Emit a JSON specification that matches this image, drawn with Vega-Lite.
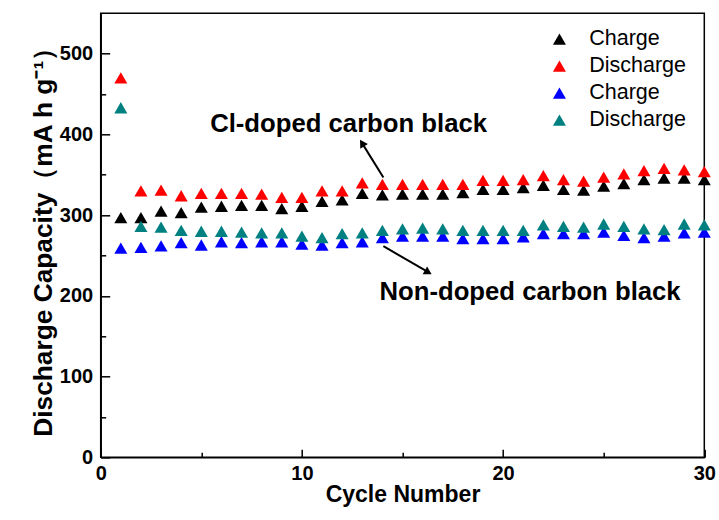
{
  "$schema": "https://vega.github.io/schema/vega-lite/v6.json",
  "width": 603.6,
  "height": 444,
  "autosize": {"type": "none"},
  "padding": {"left": 100.7, "top": 13.3, "right": 14.7, "bottom": 62.7},
  "background": "white",
  "config": {
    "view": {"stroke": "black", "strokeWidth": 1.5},
    "font": "Liberation Sans"
  },
  "datasets": {
    "cap": [
      {"cycle": 1, "series": "Cl Charge", "cap": 297}, {"cycle": 2, "series": "Cl Charge", "cap": 297}, {"cycle": 3, "series": "Cl Charge", "cap": 305}, {"cycle": 4, "series": "Cl Charge", "cap": 303}, {"cycle": 5, "series": "Cl Charge", "cap": 310}, {"cycle": 6, "series": "Cl Charge", "cap": 311}, {"cycle": 7, "series": "Cl Charge", "cap": 312}, {"cycle": 8, "series": "Cl Charge", "cap": 312}, {"cycle": 9, "series": "Cl Charge", "cap": 308}, {"cycle": 10, "series": "Cl Charge", "cap": 311},
      {"cycle": 11, "series": "Cl Charge", "cap": 317}, {"cycle": 12, "series": "Cl Charge", "cap": 319}, {"cycle": 13, "series": "Cl Charge", "cap": 327}, {"cycle": 14, "series": "Cl Charge", "cap": 325}, {"cycle": 15, "series": "Cl Charge", "cap": 326}, {"cycle": 16, "series": "Cl Charge", "cap": 326}, {"cycle": 17, "series": "Cl Charge", "cap": 326}, {"cycle": 18, "series": "Cl Charge", "cap": 328}, {"cycle": 19, "series": "Cl Charge", "cap": 332}, {"cycle": 20, "series": "Cl Charge", "cap": 332},
      {"cycle": 21, "series": "Cl Charge", "cap": 334}, {"cycle": 22, "series": "Cl Charge", "cap": 337}, {"cycle": 23, "series": "Cl Charge", "cap": 332}, {"cycle": 24, "series": "Cl Charge", "cap": 331}, {"cycle": 25, "series": "Cl Charge", "cap": 336}, {"cycle": 26, "series": "Cl Charge", "cap": 339}, {"cycle": 27, "series": "Cl Charge", "cap": 344}, {"cycle": 28, "series": "Cl Charge", "cap": 346}, {"cycle": 29, "series": "Cl Charge", "cap": 346}, {"cycle": 30, "series": "Cl Charge", "cap": 344},
      {"cycle": 1, "series": "Cl Discharge", "cap": 470}, {"cycle": 2, "series": "Cl Discharge", "cap": 330}, {"cycle": 3, "series": "Cl Discharge", "cap": 331}, {"cycle": 4, "series": "Cl Discharge", "cap": 324}, {"cycle": 5, "series": "Cl Discharge", "cap": 327}, {"cycle": 6, "series": "Cl Discharge", "cap": 327}, {"cycle": 7, "series": "Cl Discharge", "cap": 327}, {"cycle": 8, "series": "Cl Discharge", "cap": 326}, {"cycle": 9, "series": "Cl Discharge", "cap": 322}, {"cycle": 10, "series": "Cl Discharge", "cap": 322},
      {"cycle": 11, "series": "Cl Discharge", "cap": 330}, {"cycle": 12, "series": "Cl Discharge", "cap": 330}, {"cycle": 13, "series": "Cl Discharge", "cap": 340}, {"cycle": 14, "series": "Cl Discharge", "cap": 338}, {"cycle": 15, "series": "Cl Discharge", "cap": 338}, {"cycle": 16, "series": "Cl Discharge", "cap": 338}, {"cycle": 17, "series": "Cl Discharge", "cap": 338}, {"cycle": 18, "series": "Cl Discharge", "cap": 338}, {"cycle": 19, "series": "Cl Discharge", "cap": 343}, {"cycle": 20, "series": "Cl Discharge", "cap": 343},
      {"cycle": 21, "series": "Cl Discharge", "cap": 344}, {"cycle": 22, "series": "Cl Discharge", "cap": 349}, {"cycle": 23, "series": "Cl Discharge", "cap": 344}, {"cycle": 24, "series": "Cl Discharge", "cap": 342}, {"cycle": 25, "series": "Cl Discharge", "cap": 347}, {"cycle": 26, "series": "Cl Discharge", "cap": 351}, {"cycle": 27, "series": "Cl Discharge", "cap": 355}, {"cycle": 28, "series": "Cl Discharge", "cap": 358}, {"cycle": 29, "series": "Cl Discharge", "cap": 356}, {"cycle": 30, "series": "Cl Discharge", "cap": 354},
      {"cycle": 1, "series": "Non Charge", "cap": 259}, {"cycle": 2, "series": "Non Charge", "cap": 260}, {"cycle": 3, "series": "Non Charge", "cap": 262}, {"cycle": 4, "series": "Non Charge", "cap": 266}, {"cycle": 5, "series": "Non Charge", "cap": 263}, {"cycle": 6, "series": "Non Charge", "cap": 267}, {"cycle": 7, "series": "Non Charge", "cap": 266}, {"cycle": 8, "series": "Non Charge", "cap": 267}, {"cycle": 9, "series": "Non Charge", "cap": 267}, {"cycle": 10, "series": "Non Charge", "cap": 264},
      {"cycle": 11, "series": "Non Charge", "cap": 263}, {"cycle": 12, "series": "Non Charge", "cap": 266}, {"cycle": 13, "series": "Non Charge", "cap": 267}, {"cycle": 14, "series": "Non Charge", "cap": 272}, {"cycle": 15, "series": "Non Charge", "cap": 274}, {"cycle": 16, "series": "Non Charge", "cap": 274}, {"cycle": 17, "series": "Non Charge", "cap": 274}, {"cycle": 18, "series": "Non Charge", "cap": 271}, {"cycle": 19, "series": "Non Charge", "cap": 271}, {"cycle": 20, "series": "Non Charge", "cap": 271},
      {"cycle": 21, "series": "Non Charge", "cap": 273}, {"cycle": 22, "series": "Non Charge", "cap": 277}, {"cycle": 23, "series": "Non Charge", "cap": 277}, {"cycle": 24, "series": "Non Charge", "cap": 277}, {"cycle": 25, "series": "Non Charge", "cap": 279}, {"cycle": 26, "series": "Non Charge", "cap": 275}, {"cycle": 27, "series": "Non Charge", "cap": 272}, {"cycle": 28, "series": "Non Charge", "cap": 274}, {"cycle": 29, "series": "Non Charge", "cap": 278}, {"cycle": 30, "series": "Non Charge", "cap": 279},
      {"cycle": 1, "series": "Non Discharge", "cap": 433}, {"cycle": 2, "series": "Non Discharge", "cap": 286}, {"cycle": 3, "series": "Non Discharge", "cap": 285}, {"cycle": 4, "series": "Non Discharge", "cap": 281}, {"cycle": 5, "series": "Non Discharge", "cap": 280}, {"cycle": 6, "series": "Non Discharge", "cap": 280}, {"cycle": 7, "series": "Non Discharge", "cap": 279}, {"cycle": 8, "series": "Non Discharge", "cap": 278}, {"cycle": 9, "series": "Non Discharge", "cap": 278}, {"cycle": 10, "series": "Non Discharge", "cap": 274},
      {"cycle": 11, "series": "Non Discharge", "cap": 272}, {"cycle": 12, "series": "Non Discharge", "cap": 277}, {"cycle": 13, "series": "Non Discharge", "cap": 278}, {"cycle": 14, "series": "Non Discharge", "cap": 281}, {"cycle": 15, "series": "Non Discharge", "cap": 283}, {"cycle": 16, "series": "Non Discharge", "cap": 284}, {"cycle": 17, "series": "Non Discharge", "cap": 283}, {"cycle": 18, "series": "Non Discharge", "cap": 281}, {"cycle": 19, "series": "Non Discharge", "cap": 281}, {"cycle": 20, "series": "Non Discharge", "cap": 281},
      {"cycle": 21, "series": "Non Discharge", "cap": 281}, {"cycle": 22, "series": "Non Discharge", "cap": 288}, {"cycle": 23, "series": "Non Discharge", "cap": 286}, {"cycle": 24, "series": "Non Discharge", "cap": 285}, {"cycle": 25, "series": "Non Discharge", "cap": 289}, {"cycle": 26, "series": "Non Discharge", "cap": 286}, {"cycle": 27, "series": "Non Discharge", "cap": 283}, {"cycle": 28, "series": "Non Discharge", "cap": 282}, {"cycle": 29, "series": "Non Discharge", "cap": 289}, {"cycle": 30, "series": "Non Discharge", "cap": 288}
    ],
    "labels": [
      {"x": 12.32, "y": 412.5, "label": "Cl-doped carbon black"},
      {"x": 21.34, "y": 205, "label": "Non-doped carbon black"}
    ],
    "arrows": [
      {"x": 14.05, "y": 346.5, "x2": 12.99, "y2": 389.2},
      {"x": 14.05, "y": 261.5, "x2": 16.28, "y2": 229.3}
    ]
  },
  "layer": [
    {
      "data": {"name": "cap"},
      "mark": {"type": "point", "shape": "triangle-up", "filled": true, "size": 170, "opacity": 1, "strokeWidth": 0},
      "encoding": {
        "x": {
          "field": "cycle", "type": "quantitative",
          "scale": {"domain": [0, 30], "nice": false, "zero": false},
          "axis": {
            "title": "Cycle Number",
            "values": [0, 5, 10, 15, 20, 25, 30],
            "labelExpr": "datum.value % 10 === 0 ? datum.label : ''",
            "tickSize": {"condition": {"test": "datum.value % 10 === 0", "value": -8}, "value": -5},
            "tickColor": "black", "tickWidth": 1.5,
            "domainColor": "black", "domainWidth": 1.5,
            "labelFont": "Liberation Sans", "labelFontSize": 20, "labelFontWeight": "bold", "labelColor": "black",
            "labelPadding": 14, "labelFlush": false,
            "titleFont": "Liberation Sans", "titleFontSize": 23, "titleFontWeight": "bold", "titleColor": "black",
            "titlePadding": 0, "grid": false
          }
        },
        "y": {
          "field": "cap", "type": "quantitative",
          "scale": {"domain": [0, 550], "nice": false},
          "axis": {
            "title": "Discharge Capacity（mA h g⁻¹）",
            "values": [0, 50, 100, 150, 200, 250, 300, 350, 400, 450, 500],
            "labelExpr": "datum.value % 100 === 0 ? datum.label : ''",
            "tickSize": {"condition": {"test": "datum.value % 100 === 0", "value": -9}, "value": -5},
            "tickColor": "black", "tickWidth": 1.5,
            "domainColor": "black", "domainWidth": 1.5,
            "labelFont": "Liberation Sans", "labelFontSize": 20, "labelFontWeight": "bold", "labelColor": "black",
            "labelPadding": 17, "labelFlush": false,
            "titleFont": "Liberation Sans", "titleFontSize": 26.3, "titleFontWeight": "bold", "titleColor": "black",
            "titlePadding": 2, "grid": false
          }
        },
        "color": {
          "field": "series", "type": "nominal",
          "scale": {"domain": ["Cl Charge", "Cl Discharge", "Non Charge", "Non Discharge"], "range": ["#000000", "#ff0000", "#0000ff", "#008080"]},
          "legend": {
            "orient": "none", "legendX": 448, "legendY": 15, "title": null,
            "symbolType": "triangle-up", "symbolSize": 170, "symbolStrokeWidth": 0,
            "labelFont": "Liberation Sans", "labelFontSize": 21.5, "labelColor": "black",
            "labelExpr": "indexof(datum.label, 'Discharge') >= 0 ? 'Discharge' : 'Charge'",
            "rowPadding": 4, "labelOffset": 19, "padding": 0
          }
        }
      }
    },
    {
      "data": {"name": "labels"},
      "mark": {"type": "text", "font": "Liberation Sans", "fontSize": 25.7, "fontWeight": "bold", "color": "black", "align": "center", "baseline": "middle"},
      "encoding": {
        "x": {"field": "x", "type": "quantitative"},
        "y": {"field": "y", "type": "quantitative"},
        "text": {"field": "label"}
      }
    },
    {
      "data": {"name": "arrows"},
      "mark": {"type": "rule", "color": "black", "strokeWidth": 2},
      "encoding": {
        "x": {"field": "x", "type": "quantitative"},
        "y": {"field": "y", "type": "quantitative"},
        "x2": {"field": "x2"},
        "y2": {"field": "y2"}
      }
    },
    {
      "data": {"values": [{"x": 12.99, "y": 389.2}]},
      "mark": {"type": "point", "shape": "triangle-up", "filled": true, "size": 80, "color": "black", "opacity": 1, "angle": 328.5},
      "encoding": {
        "x": {"field": "x", "type": "quantitative"},
        "y": {"field": "y", "type": "quantitative"}
      }
    },
    {
      "data": {"values": [{"x": 16.28, "y": 229.3}]},
      "mark": {"type": "point", "shape": "triangle-up", "filled": true, "size": 80, "color": "black", "opacity": 1, "angle": 120},
      "encoding": {
        "x": {"field": "x", "type": "quantitative"},
        "y": {"field": "y", "type": "quantitative"}
      }
    }
  ]
}
